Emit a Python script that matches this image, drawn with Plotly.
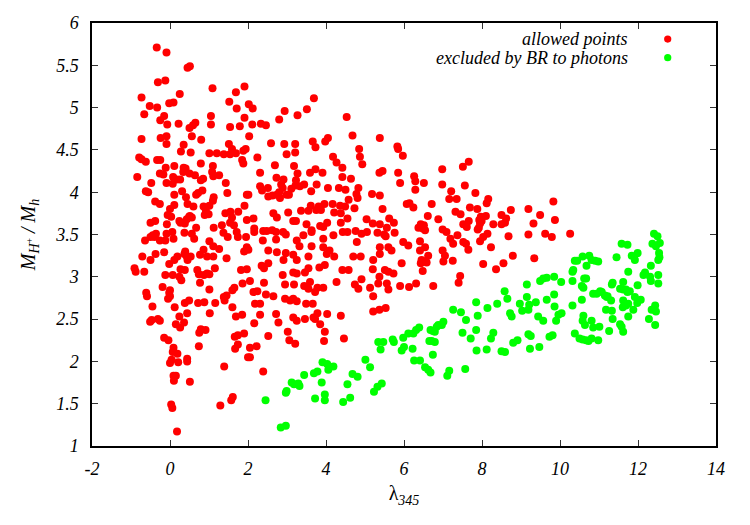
import plotly.graph_objects as go

# allowed points (red): (lambda_345, M_H+/M_h)
allowed_points = [
(-0.34,5.71),(-0.09,5.65),(0.45,5.47),(0.51,5.49),(-0.31,5.30),(-0.12,5.32),(-0.73,5.12),(-0.52,5.02),(-0.33,5.00),(-0.66,4.92),
(-0.02,5.05),(0.09,5.06),(0.25,5.16),(-0.15,4.90),(-0.25,4.85),(-0.07,4.80),(0.22,4.81),(0.50,4.76),(0.59,4.79),(0.65,4.82),
(1.05,4.90),(1.05,4.80),(1.09,5.23),(0.80,4.62),(0.56,4.66),(0.28,4.48),(0.35,4.56),(0.53,4.47),(-0.09,4.66),(-0.09,4.57),
(-0.24,4.64),(-0.73,4.63),(-0.79,4.41),(-0.73,4.39),(-0.62,4.36),(-0.33,4.38),(-0.25,4.38),(-0.11,4.29),(0.11,4.31),(0.35,4.29),
(0.40,4.28),(0.79,4.34),(1.01,4.46),(1.20,4.46),(1.38,4.45),(1.10,4.31),(1.52,5.07),(1.69,5.18),(1.91,5.25),(1.71,4.99),
(2.02,5.04),(1.91,4.88),(1.79,4.78),(1.54,4.77),(2.03,4.66),(1.51,4.57),(1.59,4.51),(1.69,4.46),(1.54,4.45),(1.88,4.49),
(1.94,4.51),(1.85,4.38),(1.88,4.34),
(-0.84,4.18),(-0.48,4.11),(-0.26,4.22),(-0.17,4.21),(-0.09,4.11),(0.07,4.10),(0.08,4.18),(0.17,4.15),(0.26,4.15),(0.34,4.24),
(0.50,4.22),(0.64,4.20),(0.79,4.14),(0.85,4.16),(1.08,4.24),(1.11,4.19),(1.26,4.20),(1.43,4.11),(-0.62,4.01),(-0.56,4.00),
(0.11,3.97),(0.31,4.01),(0.41,3.94),(0.67,3.97),(0.72,3.99),(0.83,4.02),(1.12,3.94),(1.10,3.90),(1.47,3.99),(1.97,3.97),
(-0.38,3.89),(-0.26,3.86),(0.00,3.80),(-0.06,3.73),(0.03,3.71),(0.11,3.85),(0.45,3.86),(0.60,3.83),(0.51,3.72),(0.56,3.70),
(0.86,3.83),(0.92,3.78),(1.01,3.84),(0.89,3.73),(0.99,3.74),(1.42,3.75),(1.55,3.77),(1.59,3.70),(1.75,3.77),(1.91,3.84),
(-0.50,3.64),(-0.38,3.66),(-0.08,3.62),(0.24,3.66),(0.27,3.64),(0.38,3.63),(0.43,3.68),(0.49,3.71),(0.67,3.58),(1.12,3.58),
(1.33,3.61),(1.37,3.52),(1.54,3.64),(1.64,3.61),(1.97,3.67),(-0.64,3.43),(-0.50,3.47),(-0.44,3.49),(-0.40,3.47),(-0.36,3.51),
(-0.26,3.43),(-0.12,3.43),(-0.09,3.51),(0.06,3.53),(0.09,3.45),(0.37,3.52),(0.56,3.51),(0.62,3.45),(1.01,3.42),(1.11,3.36),
(1.26,3.33),(1.48,3.47),(1.71,3.53),(1.74,3.47),(1.95,3.47),(1.97,3.35),(1.90,3.30),(2.01,3.32),(-0.71,3.24),(-0.50,3.20),
(-0.37,3.27),(-0.15,3.29),(-0.02,3.15),(0.11,3.20),(0.19,3.24),(0.37,3.27),(0.43,3.24),(0.45,3.20),(0.53,3.24),(0.39,3.30),
(0.77,3.26),(0.86,3.32),(0.95,3.24),(1.11,3.24),(1.45,3.22),(-0.91,3.10),(-0.88,3.06),(-0.66,3.06),(-0.12,3.02),(0.07,3.02),
(0.27,3.09),(0.38,3.08),(0.24,3.00),(0.29,2.96),(0.70,3.08),(0.74,3.03),(0.87,3.02),(0.95,3.04),(1.01,3.03),(1.15,3.10),
(0.77,2.93),(1.82,3.08),(1.97,3.09),(1.86,2.92),(-0.19,2.88),(0.00,2.84),(-0.02,2.81),(-0.61,2.81),(-0.59,2.77),(-0.45,2.65),
(-0.05,2.74),(0.00,2.77),(0.12,2.64),(0.38,2.69),(0.49,2.72),(0.72,2.69),(1.01,2.85),(1.16,2.69),(1.38,2.76),(1.45,2.78),
(1.60,2.84),(1.65,2.87),(1.40,2.72),(1.60,2.64),
(-0.51,2.47),(-0.47,2.49),(-0.31,2.50),(-0.26,2.48),(0.24,2.53),(0.44,2.57),(0.15,2.44),(0.26,2.40),(0.36,2.46),(0.88,2.70),
(1.02,2.57),(1.69,2.53),(1.85,2.55),(-0.15,2.28),(-0.04,2.25),(0.75,2.34),(0.79,2.38),(0.91,2.37),(0.74,2.18),(0.09,2.16),
(0.07,2.11),(0.19,2.09),(0.04,2.02),(0.00,1.98),(0.21,1.99),(0.44,2.03),(0.44,2.00),(0.09,1.83),(0.15,1.83),(0.10,1.77),
(0.51,1.76),(1.39,1.94),(0.03,1.49),(0.06,1.45),(1.29,1.48),(1.57,1.54),(1.61,1.58),(0.18,1.17),(1.66,2.29),(1.74,2.31),
(1.90,2.33),(1.67,2.15),(1.74,2.20),(2.00,2.05),(2.05,2.16),
(2.12,4.99),(2.11,4.80),(2.33,4.81),(2.46,4.79),(2.24,4.41),(2.59,4.58),(2.80,4.86),(2.94,4.96),(3.27,4.91),(3.51,4.98),
(3.69,5.11),(2.93,4.57),(3.21,4.57),(3.21,4.47),(2.99,4.45),(2.69,4.32),(3.18,4.31),(2.31,4.23),(3.66,4.60),(3.73,4.53),
(3.98,4.60),(4.05,4.64),(4.53,4.89),(4.68,4.67),(4.85,4.51),(4.87,4.42),(4.93,4.33),(5.38,4.64),(5.83,4.54),(5.85,4.51),
(5.97,4.43),(4.18,4.42),(4.27,4.35),(4.42,4.29),(3.73,4.27),(3.91,4.23),(3.59,4.23),(3.27,4.22),(2.73,4.17),(2.91,4.15),
(3.23,4.14),(4.42,4.18),(4.64,4.16),(5.37,4.23),(5.45,4.25),(5.85,4.23),(5.90,4.11),(2.31,4.07),(2.36,4.02),(2.51,4.05),
(2.85,4.09),(2.89,4.05),(2.80,4.00),(3.11,4.04),(3.22,4.08),(3.33,4.07),(3.44,4.09),(3.76,4.09),(3.62,4.01),(4.05,4.05),
(4.33,4.05),(4.50,4.03),(4.58,3.91),(4.83,4.05),(4.78,3.98),(4.81,3.93),(5.18,3.98),(5.38,3.96),(5.45,3.80),(6.07,3.86),
(2.01,3.97),(2.52,3.95),(2.63,3.96),(2.74,3.97),(2.82,3.93),(2.99,3.97),(3.05,3.97),(3.61,3.84),(3.81,3.83),(3.87,3.79),
(3.96,3.86),(4.17,3.86),(4.36,3.84),(4.49,3.83),(4.73,3.81),(2.65,3.75),(2.74,3.70),(3.03,3.76),(3.36,3.78),(3.55,3.78),
(3.75,3.79),(3.16,3.66),(3.23,3.66),(3.50,3.62),(3.63,3.55),(3.85,3.60),(3.93,3.59),(4.03,3.64),(4.21,3.76),(4.38,3.75),
(4.55,3.69),(4.38,3.64),(4.55,3.53),(4.43,3.53),(4.76,3.54),(5.04,3.68),(5.20,3.63),(5.38,3.62),(5.56,3.58),(5.62,3.69),
(5.74,3.64),(5.05,3.53),(4.91,3.51),(5.32,3.52),(5.49,3.50),(5.53,3.48),(5.76,3.52),(2.14,3.69),(2.16,3.57),(2.16,3.53),
(2.39,3.54),(2.48,3.54),(2.62,3.55),(2.72,3.53),(2.90,3.53),(2.97,3.50),
(3.42,3.49),(3.63,3.53),(3.93,3.45),(4.19,3.49),(5.98,3.41),(2.38,3.43),(2.72,3.44),(3.25,3.43),(3.32,3.36),(3.63,3.36),
(3.93,3.35),(4.09,3.31),(4.02,3.27),(4.21,3.24),(4.70,3.24),(4.89,3.24),(4.79,3.41),(5.38,3.35),(5.60,3.35),(5.68,3.31),
(6.11,3.37),(2.52,3.31),(2.74,3.29),(2.97,3.28),(3.16,3.26),(2.91,3.20),(3.55,3.24),(3.25,3.20),(5.38,3.27),(5.21,3.20),
(2.35,3.13),(2.41,3.10),(2.52,3.16),(2.89,3.02),(3.16,3.05),(3.25,3.04),(3.46,3.05),(3.55,3.10),(3.83,3.11),(3.97,3.14),
(4.42,3.08),(4.58,3.08),(5.20,3.09),(5.51,3.08),(5.60,3.06),(5.73,3.04),(5.94,3.16),(2.05,2.95),(2.41,2.93),(2.95,2.91),
(3.18,2.91),(3.44,2.89),(3.59,2.94),(3.55,2.86),(3.78,2.87),(3.72,2.82),(3.93,2.87),(4.27,2.94),(4.74,2.91),(4.83,2.86),
(4.91,2.97),(5.13,2.87),(5.37,3.00),(5.34,2.92),(5.56,2.92),(5.60,2.85),(2.14,2.82),(2.24,2.83),(2.46,2.79),(2.65,2.77),
(5.21,2.77),(2.95,2.74),(3.08,2.72),(3.16,2.74),(3.25,2.71),(2.18,2.68),(2.31,2.68),(3.49,2.68),(3.66,2.68),(2.31,2.55),
(2.72,2.56),(2.78,2.46),(3.16,2.52),(3.25,2.48),(3.46,2.50),(3.68,2.52),(3.78,2.57),(3.72,2.50),(4.03,2.56),(4.38,2.54),
(5.21,2.59),(5.37,2.61),(5.53,2.63),(2.16,2.45),(3.85,2.44),(2.52,2.30),(3.02,2.35),(3.06,2.25),(3.21,2.21),(3.97,2.35),
(3.95,2.24),(4.46,2.27),(2.22,2.18),(2.05,2.05),(2.39,1.88),
(6.26,4.19),(6.29,4.13),(6.51,4.11),(6.29,4.03),(6.98,4.27),(6.98,4.09),(7.51,4.30),(7.66,4.36),(7.56,4.08),(7.21,4.01),
(7.16,3.92),(7.35,3.92),(7.83,3.99),(8.16,3.92),(8.12,3.87),(6.14,3.87),(6.24,3.82),(6.71,3.86),(7.69,3.82),(7.88,3.80),
(8.74,3.79),(9.19,3.80),(7.32,3.77),(7.45,3.74),(6.61,3.72),(6.88,3.68),(7.66,3.66),(7.52,3.62),(7.61,3.59),(7.97,3.71),
(7.99,3.66),(8.10,3.72),(7.93,3.67),(7.95,3.63),(7.89,3.56),(7.92,3.58),(8.29,3.62),(8.50,3.73),(8.62,3.69),(8.50,3.62),
(8.59,3.64),(9.49,3.73),(9.87,3.67),(9.83,3.89),(9.32,3.63),(6.37,3.58),(6.43,3.62),(6.48,3.57),(6.51,3.61),(6.54,3.55),
(6.99,3.56),(7.09,3.53),(7.37,3.49),(7.19,3.45),(7.26,3.39),(7.52,3.41),(7.59,3.39),(7.65,3.32),(7.95,3.42),(8.03,3.47),
(8.14,3.51),(8.23,3.35),(8.68,3.48),(9.19,3.50),(9.62,3.51),(9.79,3.47),(10.26,3.51),(6.41,3.42),(6.41,3.31),(6.54,3.35),
(6.99,3.31),(7.05,3.25),(7.01,3.18),(7.25,3.19),(6.45,3.20),(6.54,3.18),(6.62,3.25),(6.43,3.16),(6.58,3.17),(6.48,3.07),
(8.03,3.15),(8.36,3.09),(8.55,3.16),(8.79,3.25),(9.34,3.22),(7.44,3.01),(7.40,2.93),(6.75,2.89),(6.31,2.92),(6.13,2.88),
(5.90,2.89),
]

# excluded by BR to photons (green)
excluded_points = [
(2.45,1.54),(2.84,1.22),(2.97,1.24),(2.97,1.63),(2.99,1.65),(3.12,1.75),(3.18,1.73),(3.29,1.74),(3.32,1.71),(3.44,1.84),
(3.69,1.86),(3.78,1.88),(3.89,1.75),(3.91,1.99),(4.03,1.97),(4.19,1.94),(4.06,1.90),(3.72,1.56),(3.97,1.61),(3.97,1.54),
(4.44,1.52),(4.62,1.57),(4.55,1.73),(4.68,1.85),(4.81,1.82),(5.01,2.02),(5.13,1.93),(5.23,1.64),(5.32,1.70),(5.43,1.74),
(5.34,2.23),(5.47,2.23),(5.40,2.14),(5.71,2.26),(5.74,2.23),(5.98,2.28),(6.11,2.33),(5.94,2.13),(6.00,2.17),
(9.15,2.91),(9.49,2.95),(9.57,2.98),(9.66,2.99),(9.85,3.00),(10.03,2.94),
(8.58,2.83),(8.65,2.74),(8.39,2.68),(8.14,2.63),(7.85,2.70),(7.89,2.54),(7.46,2.58),(7.26,2.61),(7.59,2.49),(7.50,2.34),
(7.85,2.37),(7.71,2.27),(8.29,2.34),(8.23,2.27),(7.86,2.13),(8.12,2.14),(8.50,2.12),(8.59,2.11),(8.80,2.22),(8.91,2.25),
(8.72,2.57),(8.76,2.53),(8.97,2.68),(9.03,2.60),(9.19,2.61),(9.21,2.67),(9.15,2.76),(9.38,2.70),(9.66,2.73),(9.44,2.53),
(9.57,2.48),(9.19,2.32),(9.25,2.30),(9.23,2.15),(9.47,2.17),(9.73,2.29),(7.01,2.47),(6.97,2.43),(6.88,2.43),(6.84,2.41),
(6.79,2.35),(6.74,2.36),(6.68,2.37),(6.71,2.24),(6.79,2.23),(6.65,2.24),(6.74,2.08),(6.39,2.40),(6.31,2.37),(6.24,2.33),
(6.22,2.15),(6.26,2.01),(6.41,2.01),(6.54,1.93),(6.62,1.90),(6.68,1.87),(7.16,1.89),(7.11,1.83),(7.57,1.91),
(12.41,3.51),(12.50,3.48),(12.37,3.39),(12.46,3.36),(12.56,3.40),(12.54,3.28),(12.55,3.23),(12.52,3.20),(11.58,3.39),(11.73,3.38),
(11.45,3.23),(11.84,3.25),(11.92,3.20),(11.99,3.28),(12.33,3.13),(11.75,3.06),(12.18,3.05),(12.14,3.02),(12.31,3.00),(12.52,3.02),
(12.33,2.95),(12.52,2.92),(10.58,3.24),(10.75,3.25),(10.81,3.20),(10.90,3.19),(10.98,3.18),(10.38,3.19),(10.44,3.19),(10.68,3.13),
(10.34,3.08),(10.32,3.06),(10.62,2.98),(10.67,2.98),(10.32,2.95),(10.56,2.89),(10.60,2.87),(11.35,2.93),(11.33,2.91),(11.62,2.94),
(11.54,2.86),(11.62,2.85),(11.69,2.85),(11.79,2.83),(11.73,2.82),(11.99,2.90),(10.85,2.80),(10.94,2.80),(11.03,2.83),(11.07,2.82),
(11.15,2.78),(11.22,2.77),(11.31,2.72),(11.20,2.76),(11.62,2.72),(11.75,2.68),(11.92,2.76),(11.98,2.69),(12.07,2.73),(11.88,2.61),
(11.61,2.64),(11.69,2.66),(11.75,2.53),(11.18,2.61),(11.33,2.60),(11.35,2.50),(11.54,2.44),(11.58,2.41),(11.62,2.35),(11.26,2.36),
(11.01,2.41),(10.81,2.48),(10.85,2.40),(10.58,2.48),(10.64,2.43),(10.60,2.54),(10.38,2.33),(10.50,2.27),(10.58,2.26),(10.67,2.25),
(10.73,2.24),(10.81,2.27),(10.98,2.25),(10.56,2.73),(10.32,2.66),(9.85,2.79),(9.86,2.65),(10.04,2.57),(9.96,2.55),(9.90,2.48),
(9.81,2.31),(12.44,2.66),(12.46,2.59),(12.28,2.50),(12.44,2.43),(12.35,2.61),
]

x_ticks = [-2, 0, 2, 4, 6, 8, 10, 12, 14]
x_tick_labels = ["-2", "0", "2", "4", "6", "8", "10", "12", "14"]
y_ticks = [1, 1.5, 2, 2.5, 3, 3.5, 4, 4.5, 5, 5.5, 6]
y_tick_labels = ["1", "1.5", "2", "2.5", "3", "3.5", "4", "4.5", "5", "5.5", "6"]
series_names = ["allowed points", "excluded by BR to photons"]
series_colors = ["#ff0000", "#00ff00"]

SERIF = "Liberation Serif"

fig = go.Figure()
for pts, name, col in [(allowed_points, series_names[0], series_colors[0]),
                       (excluded_points, series_names[1], series_colors[1])]:
    fig.add_trace(go.Scatter(
        x=[p[0] for p in pts], y=[p[1] for p in pts], mode="markers", name=name,
        marker=dict(size=8, color=col, line=dict(width=0)), showlegend=False))

axis_common = dict(showline=True, linecolor="black", linewidth=1.5, mirror="allticks",
                   ticks="inside", ticklen=6, tickwidth=1, tickcolor="#333333",
                   showgrid=False, zeroline=False,
                   tickfont=dict(family=SERIF, size=18, color="black", style="italic"))

fig.update_layout(
    width=750, height=525,
    margin=dict(l=92, r=34, t=23, b=79),
    plot_bgcolor="white", paper_bgcolor="white",
    font=dict(family=SERIF, color="black"),
    xaxis=dict(range=[-2, 14], tickvals=x_ticks, ticktext=x_tick_labels, ticklabelstandoff=6,
               title=dict(text="λ<sub><i>345</i></sub>", font=dict(family=SERIF, size=20, color="black"), standoff=8),
               **axis_common),
    yaxis=dict(range=[1, 6], tickvals=y_ticks, ticktext=y_tick_labels, ticklabelstandoff=8,
               title=dict(text="<i>M</i><sub><i>H</i><sup>+</sup></sub><i> / M</i><sub><i>h</i></sub>",
                          font=dict(family=SERIF, size=20, color="black"), standoff=14),
               **axis_common),
)

# legend (gnuplot style: text right-aligned, key symbol to the right)
legend_rows = [0.962, 0.918]
for name, col, yp in zip(series_names, series_colors, legend_rows):
    fig.add_annotation(xref="paper", yref="paper", x=0.862, y=yp, xanchor="right", yanchor="middle",
                       text="<i>%s</i>" % name, showarrow=False,
                       font=dict(family=SERIF, size=18, color="black"))
    fig.add_shape(type="circle", xref="paper", yref="paper",
                  x0=0.9226 - 0.0058, x1=0.9226 + 0.0058, y0=yp - 0.0085, y1=yp + 0.0085,
                  fillcolor=col, line=dict(width=0))

fig.write_html("out.html")
